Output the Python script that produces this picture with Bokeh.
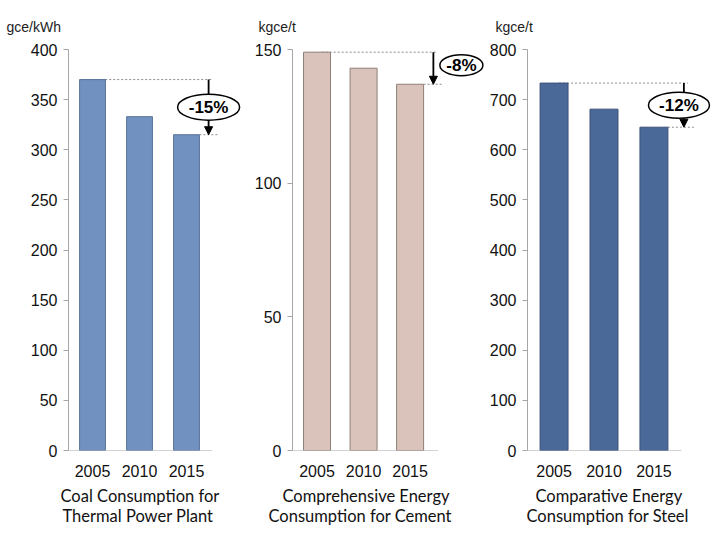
from bokeh.plotting import figure
from bokeh.layouts import row
from bokeh.models import (Range1d, FixedTicker, Label, Arrow, NormalHead,
                          ColumnDataSource, Title)
from bokeh.embed import file_html
from bokeh.resources import INLINE

years = ["2005", "2010", "2015"]

coal_values = [370, 333, 315]
cement_values = [149, 143, 137]
steel_values = [733, 681, 645]

coal_ticks = [0, 50, 100, 150, 200, 250, 300, 350, 400]
cement_ticks = [0, 50, 100, 150]
steel_ticks = [0, 100, 200, 300, 400, 500, 600, 700, 800]

units = ["gce/kWh", "kgce/t", "kgce/t"]
titles = [["Coal Consumption for", "Thermal Power Plant"],
          ["Comprehensive Energy", "Consumption for Cement"],
          ["Comparative Energy", "Consumption for Steel"]]
changes = ["-15%", "-8%", "-12%"]

AXIS_COLOR = "#A6A6A6"
TICK_FONT = "Liberation Sans"
TITLE_FONT = "Lato"

H = 540
TOP = 49
FRAME_H = 401
BOTTOM = H - TOP - FRAME_H
UNIT_STANDOFF = 29


def make_chart(values, ticks, unit, title_lines, change, fill, line,
               width, bl, br, xstart, xend, bar_w,
               unit_dx, title_dx, arrow_dx,
               ell_dx, ell_dy, ell_w, ell_h, baseline_end):
    ymax = ticks[-1]
    frame_w = width - bl - br
    ppu_x = frame_w / (xend - xstart)
    ppu_y = FRAME_H / ymax
    p = figure(width=width, height=H, output_backend="svg",
               toolbar_location=None, x_range=Range1d(xstart, xend),
               y_range=Range1d(0, ymax), min_border_left=bl,
               min_border_right=br, min_border_top=TOP,
               min_border_bottom=BOTTOM)
    p.outline_line_color = None
    p.grid.visible = False
    p.background_fill_color = "white"
    p.border_fill_color = "white"

    xs = list(range(len(values)))
    src = ColumnDataSource(dict(x=xs, top=values))

    # baseline under the bars
    p.segment(x0=[xstart], y0=[0], x1=[baseline_end], y1=[0],
              line_color=AXIS_COLOR, line_width=1.2)

    ax = xs[-1] + arrow_dx
    # dashed reference lines
    p.segment(x0=[xs[0] + 0.1], y0=[values[0]], x1=[ax + 0.08],
              y1=[values[0]], line_color="#8C8C8C", line_width=1,
              line_dash="2 2")
    p.segment(x0=[xs[-1] + bar_w / 2], y0=[values[-1]],
              x1=[ax + 0.2], y1=[values[-1]],
              line_color="#8C8C8C", line_width=1, line_dash="2 2")

    p.vbar(x="x", top="top", width=bar_w, source=src, fill_color=fill,
           line_color=line, line_width=1)

    p.add_layout(Arrow(end=NormalHead(size=8, fill_color="black",
                                      line_color="black"),
                       x_start=ax, y_start=values[0],
                       x_end=ax, y_end=values[-1],
                       line_color="black", line_width=1.8))

    ex = ax + ell_dx / ppu_x
    ey = (values[0] + values[-1]) / 2 + ell_dy / ppu_y
    r = p.ellipse(x=[ex], y=[ey], width=ell_w, height=ell_h,
                  width_units="screen", height_units="screen",
                  fill_color="white", line_color="black", line_width=1.5)
    r.level = "overlay"
    lab = Label(x=ex, y=ey, text=change,
                text_align="center", text_baseline="middle",
                text_font=TICK_FONT, text_font_size="17px",
                text_font_style="bold", text_color="black")
    lab.level = "overlay"
    p.add_layout(lab)

    # y axis
    ya = p.yaxis[0]
    ya.ticker = FixedTicker(ticks=ticks)
    ya.axis_line_color = AXIS_COLOR
    ya.major_tick_line_color = AXIS_COLOR
    ya.major_tick_out = 5
    ya.major_tick_in = 0
    ya.minor_tick_line_color = None
    ya.major_label_standoff = 6
    ya.major_label_text_font = TICK_FONT
    ya.major_label_text_font_size = "16px"
    ya.major_label_text_color = "#111111"

    # x axis
    xa = p.xaxis[0]
    xa.ticker = FixedTicker(ticks=xs)
    xa.major_label_overrides = {i: y for i, y in enumerate(years)}
    xa.axis_line_color = None
    xa.major_tick_line_color = None
    xa.major_tick_out = 0
    xa.major_tick_in = 0
    xa.minor_tick_line_color = None
    xa.major_label_standoff = 14
    xa.major_label_text_font = TICK_FONT
    xa.major_label_text_font_size = "16px"
    xa.major_label_text_color = "#111111"

    # unit label above
    p.add_layout(Title(text=unit, align="left", offset=unit_dx,
                       standoff=UNIT_STANDOFF, text_font=TICK_FONT,
                       text_font_size="14px", text_font_style="normal",
                       text_color="#222222"), "above")
    # titles under chart
    for i, t in enumerate(title_lines):
        ttl = Title(text=t, align="left", offset=title_dx[i], standoff=8,
                    text_font=TITLE_FONT, text_font_size="16.5px",
                    text_font_style="normal", text_color="#111111")
        if i > 0:
            try:
                ttl.standoff = -11
            except Exception:
                ttl.standoff = 0
        p.add_layout(ttl, "below")
    return p


p1 = make_chart(coal_values, coal_ticks, units[0], titles[0], changes[0],
                "#7191C0", "#5B739A", 247, 68, 6,
                -0.511, 3.17, 0.55,
                -62, [-8, -6], 0.47,
                0, 0, 62, 26, 2.55)
p2 = make_chart(cement_values, cement_ticks, units[1], titles[1], changes[1],
                "#D9C3BB", "#8E7E78", 239, 45, 1,
                -0.527, 3.62, 0.58,
                -34, [-10, -24], 0.5,
                28, 3, 43, 21, 2.6)
p3 = make_chart(steel_values, steel_ticks, units[2], titles[2], changes[2],
                "#4A6898", "#3A5278", 233, 38, 10,
                -0.532, 3.113, 0.56,
                -32, [8, -1], 0.6,
                -5, 0, 61, 26, 2.55)

layout = row(p1, p2, p3)
open("out.html", "w").write(file_html(layout, INLINE))
